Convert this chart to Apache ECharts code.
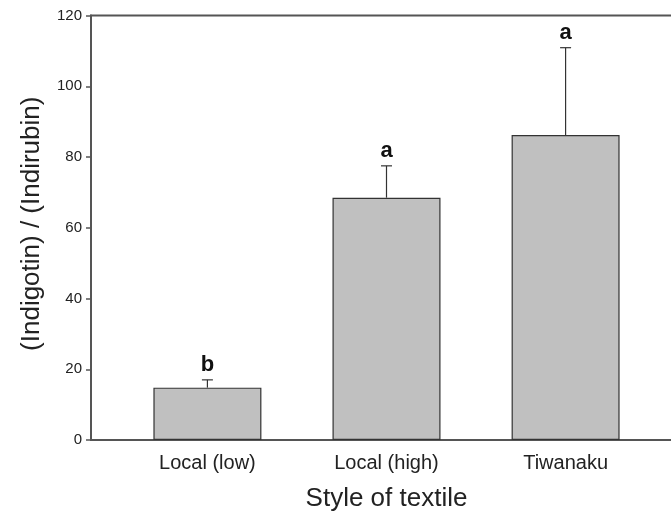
<!DOCTYPE html>
<html>
<head>
<meta charset="utf-8">
<script src="https://cdn.jsdelivr.net/npm/echarts@6/dist/echarts.min.js"></script>
<style>html,body{margin:0;padding:0;background:#fff;overflow:hidden;width:671px;height:526px;}#c{width:700px;height:526px;}</style>
</head>
<body>
<div id="c"></div>
<script>
const categories = ['Local (low)', 'Local (high)', 'Tiwanaku'];
const positions = [1, 2, 3];
const means = [14.8, 68.5, 86.2];
const errUpper = [17.0, 77.5, 110.9];
const letters = ['b', 'a', 'a'];
const yTicks = [0, 20, 40, 60, 80, 100, 120];

const chart = echarts.init(document.getElementById('c'));
const font = 'Arial, "Liberation Sans", sans-serif';
chart.setOption({
  animation: false,
  grid: { left: 91, top: 15.5, bottom: 86, right: 18, show: true, borderColor: '#555', borderWidth: 2, containLabel: false },
  xAxis: {
    type: 'value', min: 0.35, max: 3.65,
    name: 'Style of textile', nameLocation: 'middle', nameGap: 46,
    nameTextStyle: { fontFamily: font, fontSize: 26, color: '#222' },
    axisLine: { show: true, lineStyle: { color: '#555', width: 2 } },
    axisTick: { show: false },
    splitLine: { show: false },
    axisLabel: { customValues: positions, formatter: v => categories[Math.round(v) - 1], fontFamily: font, fontSize: 20, color: '#222', margin: 13 }
  },
  yAxis: {
    type: 'value', min: 0, max: 120, interval: 20,
    name: '(Indigotin) / (Indirubin)', nameLocation: 'middle', nameGap: 46,
    nameTextStyle: { fontFamily: font, fontSize: 26, color: '#222', padding: [0, 0, 0, 8] },
    axisLine: { show: true, lineStyle: { color: '#555', width: 2 } },
    axisTick: { show: true, inside: false, length: 5, lineStyle: { color: '#555', width: 1.5 } },
    splitLine: { show: false },
    axisLabel: { customValues: yTicks, fontFamily: font, fontSize: 15, color: '#222', margin: 9 }
  },
  series: [
    {
      type: 'bar', barWidth: 108,
      data: positions.map((p, i) => [p, means[i]]),
      itemStyle: { color: '#c0c0c0', borderColor: '#333', borderWidth: 1.2 },
      z: 2
    },
    {
      type: 'custom',
      data: positions.map((p, i) => [p, means[i], errUpper[i], i]),
      z: 3,
      renderItem: function (params, api) {
        const x = api.value(0);
        const base = api.coord([x, api.value(1)]);
        const top = api.coord([x, api.value(2)]);
        const style = { stroke: '#333', lineWidth: 1.2 };
        return {
          type: 'group',
          children: [
            { type: 'line', shape: { x1: base[0], y1: base[1], x2: top[0], y2: top[1] }, style },
            { type: 'line', shape: { x1: top[0] - 5.5, y1: top[1], x2: top[0] + 5.5, y2: top[1] }, style },
            { type: 'text', style: { text: letters[api.value(3)], x: top[0], y: top[1] - 4, align: 'center', verticalAlign: 'bottom', font: 'bold 22px ' + font, fill: '#111' } }
          ]
        };
      }
    }
  ]
});
</script>
</body>
</html>
